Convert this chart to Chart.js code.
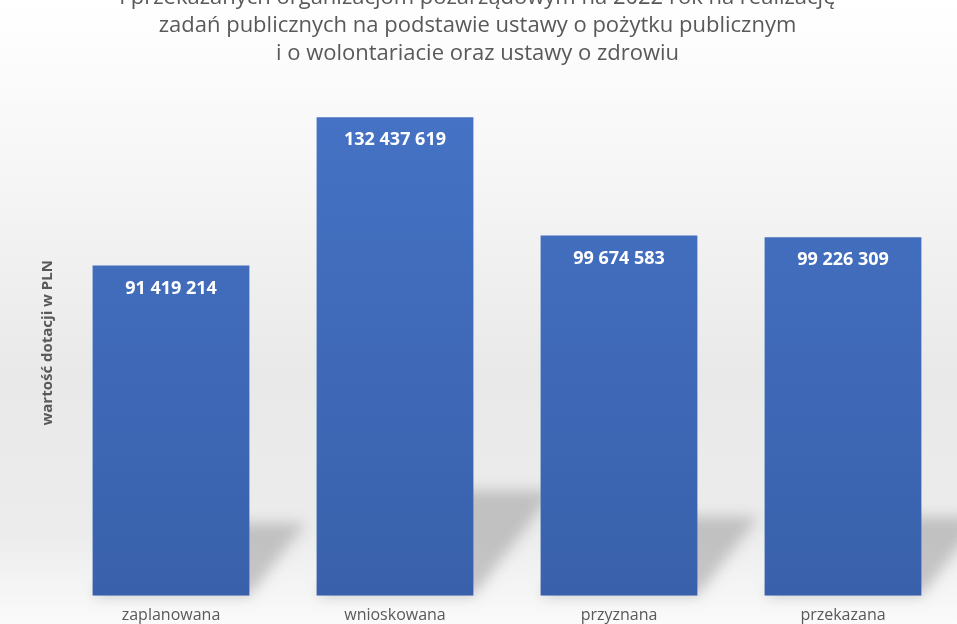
<!DOCTYPE html>
<html>
<head>
<meta charset="utf-8">
<script src="https://cdn.jsdelivr.net/npm/chart.js@4"></script>
<style>
  html, body { margin: 0; padding: 0; background: #fff; }
  #wrap { position: relative; width: 957px; height: 624px; overflow: hidden; }
  #box { position: absolute; left: 0; top: -20px; width: 957px; height: 647px; }
</style>
</head>
<body>
<div id="wrap"><div id="box"><canvas id="chart"></canvas></div></div>
<script>
// dotacje 2022 - wartości w PLN
const categories = ['zaplanowana', 'wnioskowana', 'przyznana', 'przekazana'];
const values = [91419214, 132437619, 99674583, 99226309];
const titleLines = [
  'i przekazanych organizacjom pozarządowym na 2022 rok na realizację',
  'zadań publicznych na podstawie ustawy o pożytku publicznym',
  'i o wolontariacie oraz ustawy o zdrowiu'
];
const axisTitle = 'wartość dotacji w PLN';

const GREY = '#595959';

function fmt(v) {
  return String(v).replace(/\B(?=(\d{3})+(?!\d))/g, ' ');
}

// tło z gradientem
const backdrop = {
  id: 'backdrop',
  beforeDraw(chart) {
    const { ctx, width, height } = chart;
    const g = ctx.createLinearGradient(0, 20, 0, height);
    g.addColorStop(0, '#ffffff');
    g.addColorStop(0.25, '#f7f7f7');
    g.addColorStop(0.6, '#e9e9e9');
    g.addColorStop(0.85, '#ececec');
    g.addColorStop(1, '#fbfbfb');
    ctx.save();
    ctx.fillStyle = g;
    ctx.fillRect(0, 0, width, height);
    ctx.restore();
  }
};

// cienie słupków na "podłodze"
const floorShadow = {
  id: 'floorShadow',
  beforeDatasetsDraw(chart) {
    const { ctx } = chart;
    const meta = chart.getDatasetMeta(0);
    ctx.save();
    ctx.filter = 'blur(7px)';
    ctx.fillStyle = 'rgba(150,150,150,0.5)';
    meta.data.forEach(bar => {
      const h = bar.base - bar.y;
      const hs = h * 0.22, dx = h * 0.17;
      const l = bar.x - bar.width / 2, r = bar.x + bar.width / 2;
      ctx.beginPath();
      ctx.moveTo(l, bar.base);
      ctx.lineTo(r, bar.base);
      ctx.lineTo(r + dx, bar.base - hs);
      ctx.lineTo(l + dx, bar.base - hs);
      ctx.closePath();
      ctx.fill();
    });
    ctx.restore();
  }
};

const valueLabels = {
  id: 'valueLabels',
  afterDatasetsDraw(chart) {
    const { ctx } = chart;
    const meta = chart.getDatasetMeta(0);
    ctx.save();
    ctx.fillStyle = '#ffffff';
    ctx.font = 'bold 18px "Open Sans", sans-serif';
    ctx.textAlign = 'center';
    ctx.textBaseline = 'middle';
    meta.data.forEach((bar, i) => {
      ctx.fillText(fmt(values[i]), bar.x, bar.y + 23);
    });
    ctx.restore();
  }
};

const ctx = document.getElementById('chart').getContext('2d');
new Chart(ctx, {
  type: 'bar',
  data: {
    labels: categories,
    datasets: [{
      data: values,
      backgroundColor: c => {
        const a = c.chart.chartArea;
        if (!a) return '#4472c4';
        const g = c.chart.ctx.createLinearGradient(0, a.top, 0, a.bottom);
        g.addColorStop(0, '#4673c6');
        g.addColorStop(1, '#3961ab');
        return g;
      },
      borderWidth: 0,
      categoryPercentage: 1,
      barPercentage: 0.7
    }]
  },
  options: {
    responsive: true,
    maintainAspectRatio: false,
    animation: false,
    layout: { padding: { left: 0, right: 2, top: 0, bottom: 0 } },
    plugins: {
      legend: { display: false },
      tooltip: { enabled: false },
      title: {
        display: true,
        text: titleLines,
        color: GREY,
        font: { family: 'Open Sans', size: 22, weight: 'normal', lineHeight: 1.27 },
        padding: { top: 4, bottom: 22 }
      }
    },
    scales: {
      x: {
        grid: { display: false },
        border: { display: false },
        ticks: { color: GREY, font: { family: 'Open Sans', size: 16 }, padding: 2 }
      },
      y: {
        min: 0,
        max: 140000000,
        grid: { display: false },
        border: { display: false },
        ticks: { display: false },
        title: {
          display: true,
          text: axisTitle,
          color: GREY,
          font: { family: 'Open Sans', size: 15, weight: 'bold' },
          padding: { top: 39, bottom: -6 }
        }
      }
    }
  },
  plugins: [backdrop, floorShadow, valueLabels]
});
</script>
</body>
</html>
